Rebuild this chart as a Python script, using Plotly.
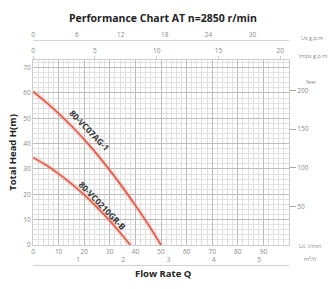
import plotly.graph_objects as go

# ---- data ----
flow_a = [0, 5, 10, 15, 20, 25, 30, 35, 40, 45, 50]
head_a = [60.5, 56.4, 51.9, 47.0, 41.6, 35.8, 29.5, 22.8, 15.6, 8.1, 0.0]
label_a = "80-VC07AG-1"

flow_b = [0, 5, 10, 15, 20, 25, 30, 35, 38]
head_b = [34.5, 31.6, 28.1, 24.2, 19.8, 14.9, 9.6, 3.7, 0.0]
label_b = "80-VC0210GR-B"

lmin_ticks = [0, 10, 20, 30, 40, 50, 60, 70, 80, 90]
m3h_ticks = [0, 1, 2, 3, 4, 5]
usgpm_ticks = [0, 6, 12, 18, 24, 30]
impgpm_ticks = [0, 5, 10, 15, 20]
head_ticks = [0, 10, 20, 30, 40, 50, 60, 70]
feet_ticks = [50, 100, 150, 200]

title = "Performance Chart AT n=2850 r/min"
ytitle = "Total Head H(m)"
xtitle = "Flow Rate Q"

TICKC = "#8a8a8a"
tickfont = dict(size=6.5, color=TICKC, family="Open Sans")

fig = go.Figure()
for fl, hd in [(flow_a, head_a), (flow_b, head_b)]:
    fig.add_trace(go.Scatter(x=fl, y=hd, mode="lines", line=dict(color="rgba(240,150,140,0.45)", width=4),
                             line_shape="spline", hoverinfo="skip", showlegend=False))
    fig.add_trace(go.Scatter(x=fl, y=hd, mode="lines", line=dict(color="#e0503c", width=1.4),
                             line_shape="spline", showlegend=False))

# dummy traces to activate extra axes
fig.add_trace(go.Scatter(x=[None], y=[None], xaxis="x2", yaxis="y", showlegend=False))
fig.add_trace(go.Scatter(x=[None], y=[None], xaxis="x3", yaxis="y", showlegend=False))
fig.add_trace(go.Scatter(x=[None], y=[None], xaxis="x4", yaxis="y", showlegend=False))
fig.add_trace(go.Scatter(x=[None], y=[None], xaxis="x", yaxis="y2", showlegend=False))

fig.update_layout(
    width=334, height=289,
    margin=dict(l=33, r=45, t=25, b=22, autoexpand=False),
    paper_bgcolor="white", plot_bgcolor="white",
    title=dict(text="<b>" + title + "</b>", x=0.488, xanchor="center", y=0.938, yanchor="middle",
               font=dict(size=10.5, color="#222", family="Open Sans")),
    xaxis=dict(range=[0, 100], tickvals=lmin_ticks, tickfont=tickfont, showgrid=True, automargin=False,
               gridcolor="#bdbdbd", gridwidth=0.8, zeroline=False, ticks="",
               minor=dict(dtick=2, showgrid=True, gridcolor="#e0e0e0", gridwidth=0.6),
               showline=True, linecolor="#cccccc", mirror=False),
    xaxis2=dict(range=[0, 5.66], tickvals=m3h_ticks, tickfont=tickfont, overlaying="x", automargin=False,
                anchor="free", position=0.008, side="bottom", ticklabelposition="inside",
                showgrid=False, zeroline=False, showline=True, linecolor="#d0d0d0", ticks=""),
    xaxis3=dict(range=[0, 20.7], tickvals=impgpm_ticks, tickfont=tickfont, overlaying="x", automargin=False,
                anchor="y", side="top", showgrid=False, zeroline=False, ticks="outside",
                ticklen=3, tickcolor="#cfcfcf", showline=True, linecolor="#cccccc"),
    xaxis4=dict(range=[0, 35], tickvals=usgpm_ticks, tickfont=tickfont, overlaying="x", automargin=False,
                anchor="free", position=0.938, side="top", showgrid=False, zeroline=False,
                showline=True, linecolor="#d6d6d6", ticks=""),
    yaxis=dict(range=[0, 73], domain=[0.0909, 0.8554], tickvals=head_ticks, tickfont=tickfont,
               automargin=False,
               showgrid=True, gridcolor="#bdbdbd", gridwidth=0.8, zeroline=False,
               minor=dict(dtick=2, showgrid=True, gridcolor="#e0e0e0", gridwidth=0.6),
               title=dict(text="<b>" + ytitle + "</b>", font=dict(size=9.5, color="#222", family="Open Sans"),
                          standoff=4),
               showline=True, linecolor="#cccccc", ticks=""),
    yaxis2=dict(range=[0, 73 * 3.28084], overlaying="y", side="right", anchor="x", automargin=False,
                tickvals=feet_ticks, tickfont=tickfont, showgrid=False, zeroline=False,
                ticks="outside", ticklen=6, tickcolor="#aaaaaa", showline=True, linecolor="#cccccc"),
)

ann_small = dict(size=5.5, color=TICKC, family="Open Sans")
fig.add_annotation(text="Us g.p.m", xref="paper", yref="paper", x=1.04, y=0.971, showarrow=False,
                   xanchor="left", font=ann_small)
fig.add_annotation(text="Imps g.p.m", xref="paper", yref="paper", x=1.03, y=0.897, showarrow=False,
                   xanchor="left", font=ann_small)
fig.add_annotation(text="Lit. l/min", xref="paper", yref="paper", x=1.03, y=0.062, showarrow=False,
                   xanchor="left", font=ann_small)
fig.add_annotation(text="m³/h", xref="paper", yref="paper", x=1.05, y=0.008, showarrow=False,
                   xanchor="left", font=ann_small)
fig.add_annotation(text="feet", xref="paper", yref="paper", x=1.06, y=0.79, showarrow=False,
                   xanchor="left", font=ann_small)
fig.add_annotation(text="<b>" + xtitle + "</b>", xref="paper", yref="paper", x=0.508, y=-0.062,
                   showarrow=False, font=dict(size=9.5, color="#222", family="Open Sans"))

lab_font = dict(size=8.5, color="#333", family="Open Sans")
fig.add_annotation(text="<b>" + label_a + "</b>", x=21, y=44.0, xref="x", yref="y", showarrow=False,
                   textangle=46, font=lab_font, xshift=3, yshift=3)
fig.add_annotation(text="<b>" + label_b + "</b>", x=26, y=14.5, xref="x", yref="y", showarrow=False,
                   textangle=46, font=lab_font, xshift=3, yshift=3)

fig.write_html("out.html", config={"displayModeBar": False},
               post_script="document.body.style.margin='0';document.body.style.padding='0';")
